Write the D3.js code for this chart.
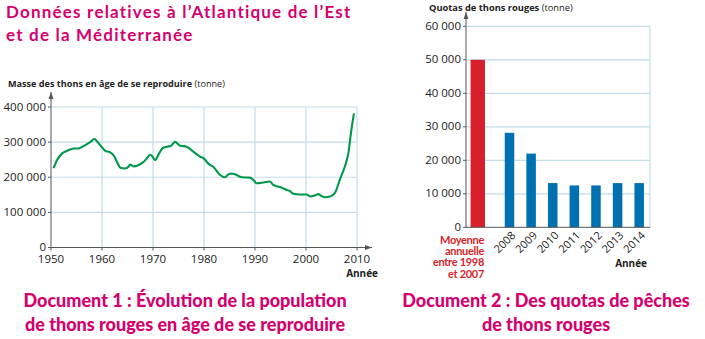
<!DOCTYPE html>
<html><head><meta charset="utf-8">
<script src="https://cdn.jsdelivr.net/npm/d3@7"></script>
<style>
body{margin:0;background:#fff;}
svg{display:block;}
text{font-family:"Open Sans",sans-serif;}
</style></head>
<body>
<script>
// ---- Data ----
const popYears = [1950.5,1951.2,1952.2,1953.1,1954.4,1955.4,1956.4,1957.6,1958.5,1959.1,1959.7,1960.6,1961.6,1962.3,1962.9,1963.6,1964.5,1965.2,1965.5,1966.2,1967.2,1968.1,1968.8,1969.4,1969.9,1970.4,1971.1,1971.9,1972.7,1973.5,1974.0,1974.3,1975.3,1976.6,1977.9,1979.2,1980.0,1980.9,1981.8,1983.1,1984.1,1985.0,1985.7,1987.4,1989.0,1989.7,1990.3,1991.6,1992.9,1993.6,1994.9,1996.2,1996.8,1997.5,1998.8,2000.1,2000.9,2001.7,2002.4,2003.0,2003.7,2004.7,2005.3,2005.8,2006.6,2007.6,2008.3,2008.9,2009.4];
const popValues = [226000,249000,268000,275000,282000,282000,289000,299000,309000,301000,290000,276000,271000,262000,245000,227000,225000,230000,236000,231000,235000,243000,254000,264000,259000,249000,265000,283000,287000,289000,297000,301000,290000,287000,273000,259000,253000,238000,230000,207000,200000,210000,210000,200000,199000,192000,183000,185000,188000,178000,172000,164000,161000,153000,151000,151000,145000,148000,152000,147000,143000,145000,150000,159000,192000,230000,268000,335000,382000];
const popYTicks = [0,100000,200000,300000,400000];
const popXTicks = [1950,1960,1970,1980,1990,2000,2010];

const quotaAvgLabel = ["Moyenne","annuelle","entre 1998","et 2007"];
const quotaAvgValue = 50000;
const quotaYears = ["2008","2009","2010","2011","2012","2013","2014"];
const quotaValues = [28200,22000,13200,12500,12500,13200,13200];
const quotaYTicks = [0,10000,20000,30000,40000,50000,60000];

const title = ["Données relatives à l’Atlantique de l’Est","et de la Méditerranée"];
const cap1 = ["Document 1 : Évolution de la population","de thons rouges en âge de se reproduire"];
const cap2 = ["Document 2 : Des quotas de pêches","de thons rouges"];

// ---- Style ----
const PINK="#d5006d", GREEN="#00984a", RED="#d71f2b", BLUE="#0071b0", GRID="#c3dce6", AXIS="#555", TXT="#222";
const W=705,H=339;
const svg=d3.select("body").append("svg").attr("width",W).attr("height",H);
const fmt = v => v===0 ? "0" : d3.format(",")(v).replace(/,/g," ");

const defs=svg.append("defs");
defs.append("marker").attr("id","arr").attr("viewBox","0 0 10 10").attr("refX",10).attr("refY",5)
  .attr("markerWidth",7).attr("markerHeight",7).attr("orient","auto")
  .append("path").attr("d","M0,1.5 L10,5 L0,8.5 Z").attr("fill",AXIS);

// Title
svg.append("g").selectAll("text").data(title).join("text")
  .attr("x",6).attr("y",(d,i)=>18+i*23).attr("fill",PINK)
  .style("font-family","Lato, sans-serif").style("font-weight","700").style("font-size","17px")
  .style("letter-spacing","1.2px").text(d=>d);

// ---- Chart 1 ----
const x1=d3.scaleLinear().domain([1950,2010]).range([51,357]);
const y1=d3.scaleLinear().domain([0,400000]).range([247.5,107]);
const g1=svg.append("g");
g1.selectAll(".hg").data(popYTicks.slice(1)).join("line")
  .attr("x1",x1(1950)).attr("x2",x1(2010)).attr("y1",d=>y1(d)).attr("y2",d=>y1(d))
  .attr("stroke",GRID).attr("stroke-width",1.2);
g1.selectAll(".vg").data(popXTicks.slice(1)).join("line")
  .attr("x1",d=>x1(d)).attr("x2",d=>x1(d)).attr("y1",y1(400000)).attr("y2",y1(0))
  .attr("stroke",GRID).attr("stroke-width",1.2);
g1.append("path").datum(popYears.map((d,i)=>[d,popValues[i]]))
  .attr("d",d3.line().x(d=>x1(d[0])).y(d=>y1(d[1])).curve(d3.curveMonotoneX))
  .attr("fill","none").attr("stroke",GREEN).attr("stroke-width",2.1);
// axes
g1.append("line").attr("x1",x1(1950)).attr("x2",x1(1950)).attr("y1",y1(0)).attr("y2",92)
  .attr("stroke",AXIS).attr("stroke-width",1).attr("marker-end","url(#arr)");
g1.append("line").attr("x1",x1(1950)).attr("x2",372).attr("y1",y1(0)).attr("y2",y1(0))
  .attr("stroke",AXIS).attr("stroke-width",1).attr("marker-end","url(#arr)");
g1.selectAll(".yt").data(popYTicks).join("line")
  .attr("x1",x1(1950)-3).attr("x2",x1(1950)).attr("y1",d=>y1(d)).attr("y2",d=>y1(d)).attr("stroke",AXIS);
g1.selectAll(".yl").data(popYTicks).join("text")
  .attr("x",x1(1950)-5).attr("y",d=>y1(d)+3.5).attr("text-anchor","end")
  .attr("fill",TXT).style("font-size","11.5px").text(fmt);
g1.selectAll(".xt").data(popXTicks).join("line")
  .attr("x1",d=>x1(d)).attr("x2",d=>x1(d)).attr("y1",y1(0)).attr("y2",y1(0)+3).attr("stroke",AXIS);
g1.selectAll(".xl").data(popXTicks).join("text")
  .attr("x",d=>x1(d)).attr("y",y1(0)+15.5).attr("text-anchor","middle")
  .attr("fill",TXT).style("font-size","11.5px").text(d=>d);
g1.append("text").attr("x",378).attr("y",276.5).attr("text-anchor","end").attr("fill",TXT)
  .style("font-size","10px").style("font-weight","700").text("Année");
const t1=g1.append("text").attr("x",8).attr("y",87).attr("fill",TXT).style("font-size","9.1px");
t1.append("tspan").style("font-weight","700").text("Masse des thons en âge de se reproduire");
t1.append("tspan").text(" (tonne)");

// ---- Chart 2 ----
const y2=d3.scaleLinear().domain([0,60000]).range([227.3,26.3]);
const x2=d3.scaleBand().domain(quotaYears).range([498.7,650]).paddingInner(0.56).paddingOuter(0.28);
const xAvg=d3.scaleBand().domain(["avg"]).range([466,498.7]).paddingInner(0.56).paddingOuter(0.28).align(0.25);
const g2=svg.append("g");
g2.selectAll(".hg").data(quotaYTicks.slice(1)).join("line")
  .attr("x1",466).attr("x2",650).attr("y1",d=>y2(d)).attr("y2",d=>y2(d))
  .attr("stroke",GRID).attr("stroke-width",1.2);
g2.append("line").attr("x1",650).attr("x2",650).attr("y1",y2(60000)).attr("y2",y2(0))
  .attr("stroke",GRID).attr("stroke-width",1.2);
g2.append("rect").attr("x",xAvg("avg")).attr("width",xAvg.bandwidth())
  .attr("y",y2(quotaAvgValue)).attr("height",y2(0)-y2(quotaAvgValue)).attr("fill",RED);
g2.selectAll(".bar").data(quotaYears).join("rect")
  .attr("x",d=>x2(d)).attr("width",x2.bandwidth())
  .attr("y",(d,i)=>y2(quotaValues[i])).attr("height",(d,i)=>y2(0)-y2(quotaValues[i])).attr("fill",BLUE);
g2.append("line").attr("x1",466).attr("x2",466).attr("y1",y2(0)).attr("y2",12)
  .attr("stroke",AXIS).attr("stroke-width",1).attr("marker-end","url(#arr)");
g2.append("line").attr("x1",466).attr("x2",650).attr("y1",y2(0)).attr("y2",y2(0))
  .attr("stroke",AXIS).attr("stroke-width",1);
g2.selectAll(".yt").data(quotaYTicks).join("line")
  .attr("x1",463).attr("x2",466).attr("y1",d=>y2(d)).attr("y2",d=>y2(d)).attr("stroke",AXIS);
g2.selectAll(".yl").data(quotaYTicks).join("text")
  .attr("x",461).attr("y",d=>y2(d)+3.5).attr("text-anchor","end")
  .attr("fill",TXT).style("font-size","11.5px").text(fmt);
g2.selectAll(".xl").data(quotaYears).join("text")
  .attr("transform",d=>`translate(${x2(d)+x2.bandwidth()/2+4},${y2(0)+6}) rotate(-45)`)
  .attr("text-anchor","end").attr("dy","0.35em")
  .attr("fill",TXT).style("font-size","11px").text(d=>d);
g2.selectAll(".al").data(quotaAvgLabel).join("text")
  .attr("x",484).attr("y",(d,i)=>244+i*11.2).attr("text-anchor","end")
  .attr("fill",RED).style("font-family","Lato, sans-serif").style("font-size","11px")
  .style("font-weight","700").style("letter-spacing","-0.3px").text(d=>d);
g2.append("text").attr("x",647).attr("y",267).attr("text-anchor","end").attr("fill",TXT)
  .style("font-size","10px").style("font-weight","700").text("Année");
const t2=g2.append("text").attr("x",429).attr("y",11).attr("fill",TXT).style("font-size","9.3px");
t2.append("tspan").style("font-weight","700").text("Quotas de thons rouges");
t2.append("tspan").text(" (tonne)");

// ---- Captions ----
svg.append("g").selectAll("text").data(cap1).join("text")
  .attr("x",185).attr("y",(d,i)=>307+i*24).attr("text-anchor","middle").attr("fill",PINK)
  .style("font-family","Lato, sans-serif").style("font-weight","900").style("font-size","18px").text(d=>d);
svg.append("g").selectAll("text").data(cap2).join("text")
  .attr("x",546).attr("y",(d,i)=>307+i*24).attr("text-anchor","middle").attr("fill",PINK)
  .style("font-family","Lato, sans-serif").style("font-weight","900").style("font-size","18px").text(d=>d);
</script>
</body></html>
